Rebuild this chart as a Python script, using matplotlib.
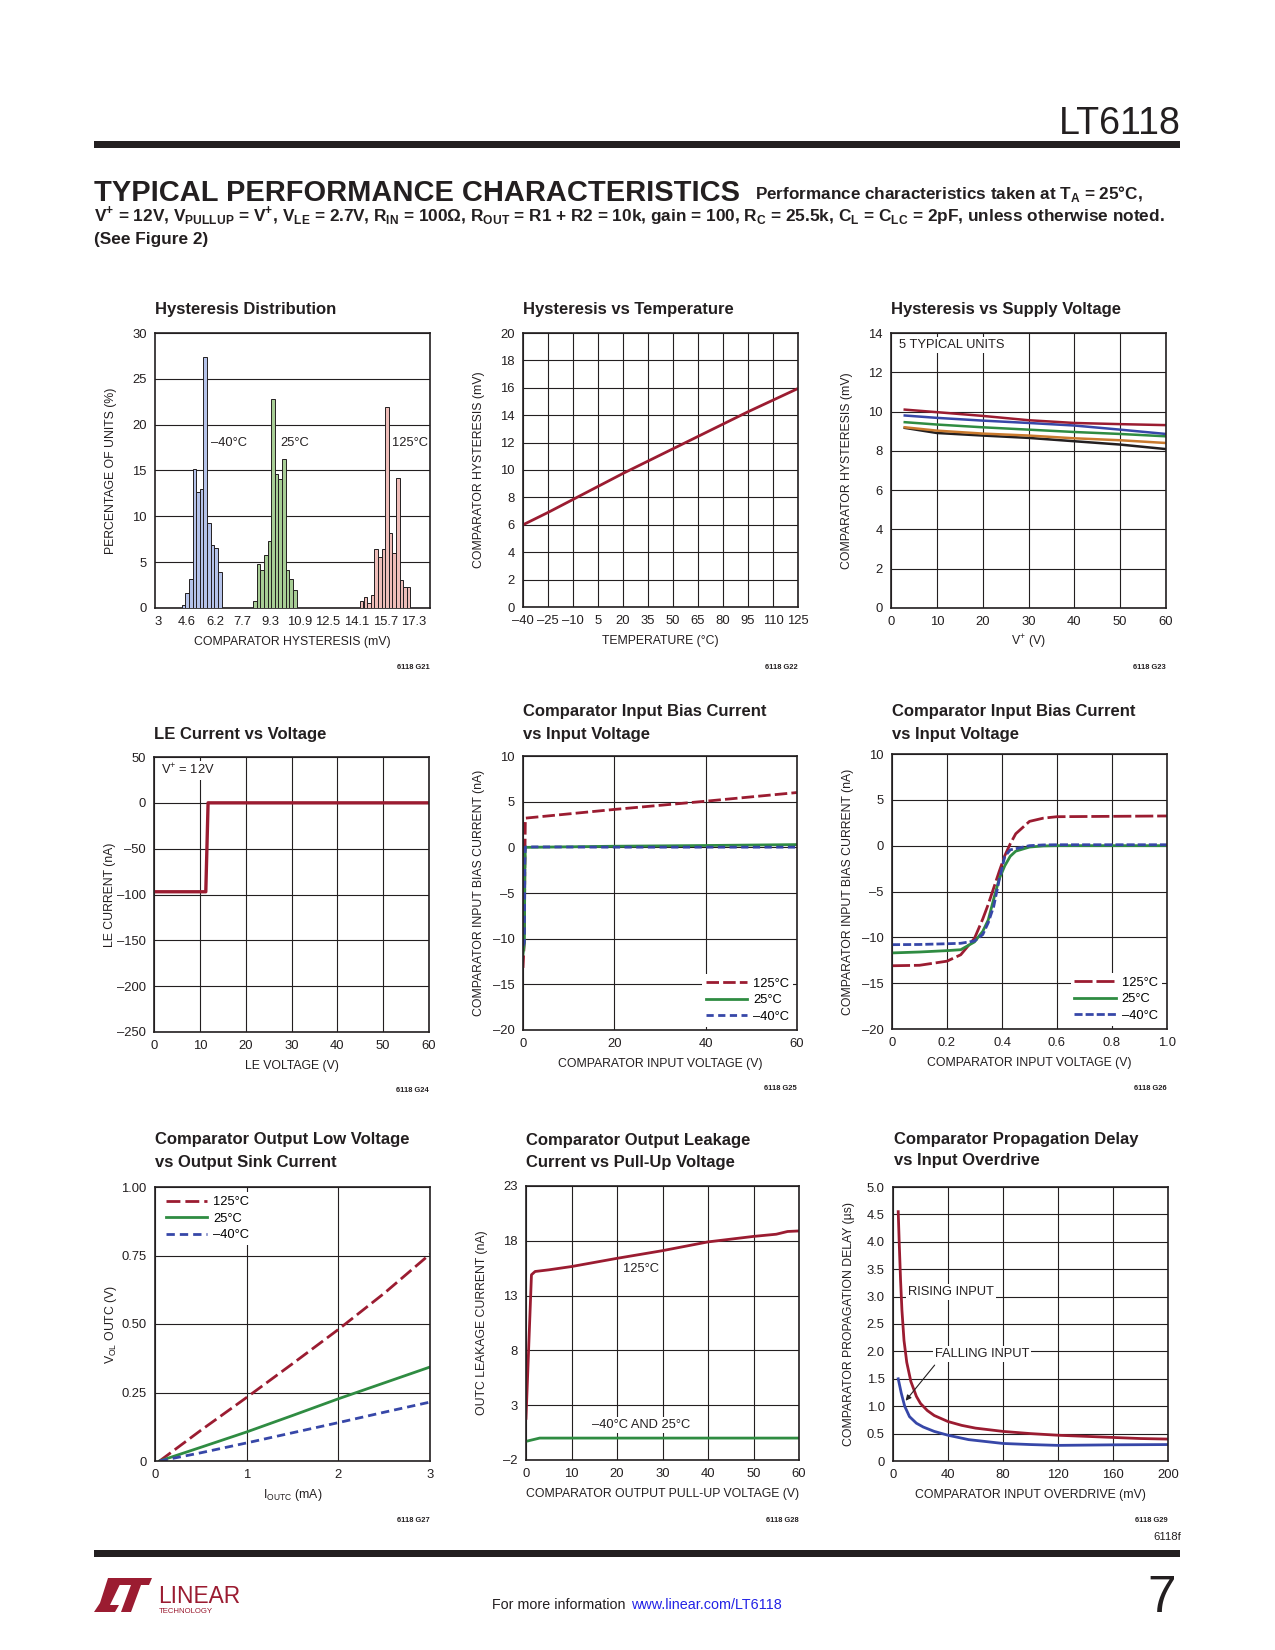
import matplotlib
matplotlib.use('Agg')
import matplotlib.pyplot as plt
from matplotlib.patches import Rectangle, Polygon

# ====================== DATA ======================
# Hysteresis distribution (bin centres in mV, percentage of units)
hist_ticks = [3, 4.6, 6.2, 7.7, 9.3, 10.9, 12.5, 14.1, 15.7, 17.3]
hist_ticklabels = ['3', '4.6', '6.2', '7.7', '9.3', '10.9', '12.5', '14.1', '15.7', '17.3']
hist_yticks = [0, 5, 10, 15, 20, 25, 30]
hist_yticklabels = ['0', '5', '10', '15', '20', '25', '30']
hist_bin_width = 0.2
bins_m40 = [4.42, 4.63, 4.83, 5.03, 5.23, 5.44, 5.64, 5.84, 6.05, 6.25, 6.45]
pct_m40 = [0.35, 1.6, 3.2, 15.2, 12.65, 13.0, 27.4, 9.3, 6.9, 6.5, 3.9]
bins_25 = [8.42, 8.62, 8.82, 9.02, 9.23, 9.43, 9.63, 9.83, 10.04, 10.24, 10.44, 10.65]
pct_25 = [0.8, 4.8, 4.1, 5.8, 7.35, 22.8, 14.65, 14.1, 16.25, 4.1, 3.2, 2.0]
bins_125 = [14.38, 14.59, 14.79, 14.99, 15.19, 15.39, 15.60, 15.80, 16.00, 16.20,
            16.41, 16.61, 16.81, 17.01]
pct_125 = [0.8, 1.2, 0.55, 1.45, 6.45, 5.55, 6.45, 21.9, 8.2, 6.0, 14.2, 3.0, 2.3, 2.3]

# Hysteresis vs temperature
temp_ticks = [-40, -25, -10, 5, 20, 35, 50, 65, 80, 95, 110, 125]
temp_ticklabels = ['–40', '–25', '–10', '5', '20', '35', '50', '65', '80', '95', '110', '125']
hyst_ticks = [0, 2, 4, 6, 8, 10, 12, 14, 16, 18, 20]
hyst_ticklabels = ['0', '2', '4', '6', '8', '10', '12', '14', '16', '18', '20']
temp_c = [-40, -25, -10, 5, 20, 35, 50, 65, 80, 95, 110, 125]
hyst_temp = [6.0, 6.9, 7.85, 8.8, 9.75, 10.65, 11.55, 12.45, 13.35, 14.25, 15.1, 15.95]

# Hysteresis vs supply voltage (5 typical units)
sup_xticks = [0, 10, 20, 30, 40, 50, 60]
sup_xticklabels = ['0', '10', '20', '30', '40', '50', '60']
sup_yticks = [0, 2, 4, 6, 8, 10, 12, 14]
sup_yticklabels = ['0', '2', '4', '6', '8', '10', '12', '14']
vsup = [3, 10, 20, 30, 40, 50, 60]
hyst_unit1 = [10.1, 9.97, 9.78, 9.56, 9.42, 9.36, 9.31]
hyst_unit2 = [9.8, 9.68, 9.54, 9.42, 9.29, 9.08, 8.86]
hyst_unit3 = [9.46, 9.34, 9.2, 9.08, 8.96, 8.86, 8.74]
hyst_unit4 = [9.2, 9.03, 8.88, 8.78, 8.64, 8.54, 8.4]
hyst_unit5 = [9.17, 8.91, 8.78, 8.66, 8.49, 8.32, 8.09]

# LE current vs voltage
le_xticks = [0, 10, 20, 30, 40, 50, 60]
le_xticklabels = ['0', '10', '20', '30', '40', '50', '60']
le_yticks = [-250, -200, -150, -100, -50, 0, 50]
le_yticklabels = ['–250', '–200', '–150', '–100', '–50', '0', '50']
le_v = [0, 11.3, 11.8, 60]
le_i = [-97, -97, 0, 0]

# Input bias current vs input voltage (0 to 60V)
ib_yticks = [-20, -15, -10, -5, 0, 5, 10]
ib_yticklabels = ['–20', '–15', '–10', '–5', '0', '5', '10']
ibw_xticks = [0, 20, 40, 60]
ibw_xticklabels = ['0', '20', '40', '60']
vin_wide = [0, 0.3, 0.4, 0.5, 0.6, 20, 40, 60]
ib125_wide = [-13.2, -10.1, -2.0, 2.6, 3.2, 4.15, 5.05, 6.0]
ib25_wide = [-11.7, -10.5, -2.8, -0.15, 0.0, 0.12, 0.2, 0.3]
ibm40_wide = [-10.8, -10.4, -1.5, 0.0, 0.05, 0.02, 0.02, 0.02]

# Input bias current vs input voltage (0 to 1V)
ibf_xticks = [0, 0.2, 0.4, 0.6, 0.8, 1.0]
ibf_xticklabels = ['0', '0.2', '0.4', '0.6', '0.8', '1.0']
vin_fine = [0, 0.1, 0.2, 0.25, 0.3, 0.33, 0.35, 0.37, 0.39, 0.41, 0.43, 0.45, 0.5,
            0.55, 0.6, 0.8, 1.0]
ib125_fine = [-13.1, -13.05, -12.6, -11.9, -10.1, -8.0, -6.4, -4.6, -2.8, -1.1, 0.2,
              1.3, 2.65, 3.0, 3.16, 3.2, 3.24]
ib25_fine = [-11.7, -11.6, -11.45, -11.35, -10.5, -9.35, -8.1, -5.8, -3.6, -2.2, -1.16,
             -0.6, -0.15, -0.03, 0.0, 0.0, 0.0]
ibm40_fine = [-10.8, -10.78, -10.7, -10.65, -10.4, -9.7, -8.4, -6.6, -3.7, -1.2, -0.45,
              -0.33, 0.0, 0.08, 0.1, 0.1, 0.1]

# Output low voltage vs sink current
vol_xticks = [0, 1, 2, 3]
vol_xticklabels = ['0', '1', '2', '3']
vol_yticks = [0, 0.25, 0.5, 0.75, 1.0]
vol_yticklabels = ['0', '0.25', '0.50', '0.75', '1.00']
iout_ma = [0.05, 0.5, 1.0, 1.5, 2.0, 2.5, 3.0]
vol_125 = [0.0, 0.112, 0.232, 0.355, 0.48, 0.612, 0.755]
vol_25 = [0.0, 0.05, 0.106, 0.166, 0.227, 0.285, 0.343]
vol_m40 = [0.0, 0.03, 0.066, 0.103, 0.14, 0.178, 0.215]

# Output leakage current vs pull-up voltage
lk_xticks = [0, 10, 20, 30, 40, 50, 60]
lk_xticklabels = ['0', '10', '20', '30', '40', '50', '60']
lk_yticks = [-2, 3, 8, 13, 18, 23]
lk_yticklabels = ['–2', '3', '8', '13', '18', '23']
vpu_125 = [0, 1.2, 2.0, 5, 10, 20, 30, 40, 50, 55, 57.5, 60]
ileak_125 = [1.8, 14.9, 15.2, 15.35, 15.65, 16.4, 17.1, 17.9, 18.4, 18.6, 18.85, 18.9]
vpu_cold = [0, 3, 60]
ileak_cold = [-0.3, 0.0, 0.0]

# Propagation delay vs input overdrive
pd_xticks = [0, 40, 80, 120, 160, 200]
pd_xticklabels = ['0', '40', '80', '120', '160', '200']
pd_yticks = [0, 0.5, 1.0, 1.5, 2.0, 2.5, 3.0, 3.5, 4.0, 4.5, 5.0]
pd_yticklabels = ['0', '0.5', '1.0', '1.5', '2.0', '2.5', '3.0', '3.5', '4.0', '4.5', '5.0']
od_rise = [3.8, 4.5, 5.5, 6.5, 8, 10, 13, 17, 20, 25, 30, 40, 50, 60, 80, 100, 120,
           140, 160, 180, 200]
tpd_rise = [4.55, 4.0, 3.3, 2.75, 2.2, 1.8, 1.45, 1.18, 1.05, 0.92, 0.83, 0.72, 0.65,
            0.6, 0.54, 0.5, 0.47, 0.45, 0.43, 0.41, 0.40]
od_fall = [3.8, 6, 8.5, 12, 17, 22, 30, 40, 55, 80, 100, 120, 160, 200]
tpd_fall = [1.5, 1.24, 1.0, 0.81, 0.69, 0.62, 0.54, 0.47, 0.39, 0.32, 0.3, 0.285,
            0.295, 0.3]

# ====================== STYLE ======================
W, H = 1275, 1650
SANS = ['Liberation Sans', 'DejaVu Sans']
plt.rcParams['font.family'] = SANS
plt.rcParams['axes.unicode_minus'] = False

INK = '#231f20'
RED = '#9b1c31'
GREEN = '#2f8c42'
BLUE = '#3747a8'
ORANGE = '#c97a2e'
HB = '#b5c3ea'
HG = '#a7cd95'
HP = '#efbdb9'
TICK_FS = 9.4
LAB_FS = 8.8
LEG_FS = 9.3
TITLE_FS = 12

fig = plt.figure(figsize=(W / 100, H / 100), dpi=100)


def fx(x):
    return x / W


def fy(y):
    return 1 - y / H


def add_ax(box):
    l, t, r, b = box
    return fig.add_axes([l / W, 1 - b / H, (r - l) / W, (b - t) / H])


def setup(ax, box, xlim, ylim, xt, xtl, yt, ytl, xl, yl, xgrid=True):
    l, t, r, b = box
    ax.set_xlim(xlim)
    ax.set_ylim(ylim)
    ax.set_xticks(xt)
    ax.set_xticklabels(xtl)
    ax.set_yticks(yt)
    ax.set_yticklabels(ytl)
    ax.tick_params(axis='both', length=0, labelsize=TICK_FS, labelcolor=INK, pad=6)
    ax.grid(True, axis='both' if xgrid else 'y', color=INK, lw=0.8)
    ax.set_axisbelow(True)
    for sp in ax.spines.values():
        sp.set_color(INK)
        sp.set_linewidth(1.2)
    ax.set_xlabel(xl, fontsize=LAB_FS, color=INK)
    ax.xaxis.set_label_coords(0.5, -34 / (b - t))
    ax.xaxis.label.set_va('center')
    ax.set_ylabel(yl, fontsize=LAB_FS, color=INK)
    ax.yaxis.set_label_coords(-44 / (r - l), 0.5)
    ax.yaxis.label.set_va('center')


def title(x, lines_baselines):
    for txt, yb in lines_baselines:
        fig.text(fx(x), fy(yb), txt, fontsize=TITLE_FS, fontweight='bold', color=INK,
                 ha='left', va='baseline')


def code(xr, y, txt):
    fig.text(fx(xr), fy(y), txt, fontsize=5.4, fontweight='bold', color=INK,
             ha='right', va='center')


def legend(ax, handles, loc, anchor):
    ax.legend(handles=handles, loc=loc, bbox_to_anchor=anchor, frameon=True,
              fancybox=False, edgecolor='none', facecolor='white', framealpha=1,
              fontsize=LEG_FS, handlelength=3.2, handletextpad=0.45, labelspacing=0.34,
              borderpad=0.3, borderaxespad=0)


WHITE = dict(facecolor='white', edgecolor='none', pad=1.5)

# ---------------- header ----------------
fig.text(fx(1181), fy(134), 'LT6118', fontsize=27, color=INK, ha='right',
         va='baseline')
fig.add_artist(Rectangle((fx(94), fy(148)), (1180 - 94) / W, 7 / H,
                         transform=fig.transFigure, color=INK, lw=0))
fig.text(fx(94), fy(201), 'TYPICAL PERFORMANCE CHARACTERISTICS', fontsize=20.9,
         fontweight='bold', color=INK, ha='left', va='baseline')
fig.text(fx(755), fy(199), r'Performance characteristics taken at T$_{\mathregular{A}}$ = 25°C,',
         fontsize=12.3, fontweight='bold', color=INK, ha='left', va='baseline')
fig.text(fx(94), fy(221),
         r'V$^{\mathregular{+}}$ = 12V, V$_{\mathregular{PULLUP}}$ = V$^{\mathregular{+}}$, '
         r'V$_{\mathregular{LE}}$ = 2.7V, R$_{\mathregular{IN}}$ = 100Ω, '
         r'R$_{\mathregular{OUT}}$ = R1 + R2 = 10k, gain = 100, R$_{\mathregular{C}}$ = 25.5k, '
         r'C$_{\mathregular{L}}$ = C$_{\mathregular{LC}}$ = 2pF, unless otherwise noted.',
         fontsize=12.4, fontweight='bold', color=INK, ha='left', va='baseline')
fig.text(fx(94), fy(244), '(See Figure 2)', fontsize=12.4, fontweight='bold',
         color=INK, ha='left', va='baseline')

# ---------------- 1: histogram ----------------
B1 = (155, 333, 430, 608)
ax = add_ax(B1)
ax.bar(bins_m40, pct_m40, width=hist_bin_width, color=HB, edgecolor=INK, lw=0.7, zorder=3)
ax.bar(bins_25, pct_25, width=hist_bin_width, color=HG, edgecolor=INK, lw=0.7, zorder=3)
ax.bar(bins_125, pct_125, width=hist_bin_width, color=HP, edgecolor=INK, lw=0.7, zorder=3)
setup(ax, B1, (2.83, 18.2), (0, 30), hist_ticks, hist_ticklabels, hist_yticks,
      hist_yticklabels, 'COMPARATOR HYSTERESIS (mV)', 'PERCENTAGE OF UNITS (%)', xgrid=False)
ax.text(5.94, 18.0, '–40°C', fontsize=LEG_FS, color=INK, ha='left', va='center')
ax.text(9.85, 18.0, '25°C', fontsize=LEG_FS, color=INK, ha='left', va='center')
ax.text(16.09, 18.0, '125°C', fontsize=LEG_FS, color=INK, ha='left', va='center')
title(155, [('Hysteresis Distribution', 314)])
code(430, 668, '6118 G21')

# ---------------- 2: hysteresis vs temperature ----------------
B2 = (523, 333, 798, 607)
ax = add_ax(B2)
ax.plot(temp_c, hyst_temp, color=RED, lw=2.0, solid_capstyle='butt')
setup(ax, B2, (-40, 125), (0, 20), temp_ticks, temp_ticklabels, hyst_ticks,
      hyst_ticklabels, 'TEMPERATURE (°C)', 'COMPARATOR HYSTERESIS (mV)')
title(523, [('Hysteresis vs Temperature', 314)])
code(798, 667, '6118 G22')

# ---------------- 3: hysteresis vs supply ----------------
B3 = (891, 333, 1166, 608)
ax = add_ax(B3)
for yv, c in [(hyst_unit5, INK), (hyst_unit4, ORANGE), (hyst_unit3, GREEN),
              (hyst_unit2, BLUE), (hyst_unit1, RED)]:
    ax.plot(vsup, yv, color=c, lw=1.8)
setup(ax, B3, (0, 60), (0, 14), sup_xticks, sup_xticklabels, sup_yticks, sup_yticklabels,
      r'V$^{\mathregular{+}}$ (V)', 'COMPARATOR HYSTERESIS (mV)')
ax.text(1.75, 13.37, '5 TYPICAL UNITS', fontsize=LEG_FS, color=INK, ha='left',
        va='center', bbox=WHITE)
title(891, [('Hysteresis vs Supply Voltage', 314)])
code(1166, 668, '6118 G23')

# ---------------- 4: LE current ----------------
B4 = (154, 757, 429, 1032)
ax = add_ax(B4)
ax.plot(le_v, le_i, color=RED, lw=2.4)
setup(ax, B4, (0, 60), (-250, 50), le_xticks, le_xticklabels, le_yticks, le_yticklabels,
      'LE VOLTAGE (V)', 'LE CURRENT (nA)')
ax.text(1.45, 35.5, r'V$^{\mathregular{+}}$ = 12V', fontsize=LEG_FS, color=INK, ha='left',
        va='center', bbox=WHITE)
title(154, [('LE Current vs Voltage', 739)])
code(429, 1090, '6118 G24')

# ---------------- 5: bias current 0-60V ----------------
B5 = (523, 756, 797, 1030)
ax = add_ax(B5)
l125, = ax.plot(vin_wide, ib125_wide, color=RED, lw=2.0, dashes=(4.5, 1.5), label='125°C')
l25, = ax.plot(vin_wide, ib25_wide, color=GREEN, lw=2.0, label='25°C')
lm40, = ax.plot(vin_wide, ibm40_wide, color=BLUE, lw=2.0, dashes=(2.6, 1.6), label='–40°C')
setup(ax, B5, (0, 60), (-20, 10), ibw_xticks, ibw_xticklabels, ib_yticks, ib_yticklabels,
      'COMPARATOR INPUT VOLTAGE (V)', 'COMPARATOR INPUT BIAS CURRENT (nA)')
legend(ax, [l125, l25, lm40], 'lower right', (0.985, 0.012))
title(523, [('Comparator Input Bias Current', 716), ('vs Input Voltage', 739)])
code(797, 1089, '6118 G25')

# ---------------- 6: bias current 0-1V ----------------
B6 = (892, 754, 1167, 1029)
ax = add_ax(B6)
l125, = ax.plot(vin_fine, ib125_fine, color=RED, lw=2.0, dashes=(6.5, 1.4), label='125°C')
l25, = ax.plot(vin_fine, ib25_fine, color=GREEN, lw=2.0, label='25°C')
lm40, = ax.plot(vin_fine, ibm40_fine, color=BLUE, lw=2.0, dashes=(2.9, 1.1), label='–40°C')
setup(ax, B6, (0, 1.0), (-20, 10), ibf_xticks, ibf_xticklabels, ib_yticks, ib_yticklabels,
      'COMPARATOR INPUT VOLTAGE (V)', 'COMPARATOR INPUT BIAS CURRENT (nA)')
legend(ax, [l125, l25, lm40], 'lower right', (0.98, 0.012))
title(892, [('Comparator Input Bias Current', 716), ('vs Input Voltage', 739)])
code(1167, 1089, '6118 G26')

# ---------------- 7: output low voltage ----------------
B7 = (155, 1187, 430, 1461)
ax = add_ax(B7)
l125, = ax.plot(iout_ma, vol_125, color=RED, lw=2.0, dashes=(5, 1.8), label='125°C')
l25, = ax.plot(iout_ma, vol_25, color=GREEN, lw=2.0, label='25°C')
lm40, = ax.plot(iout_ma, vol_m40, color=BLUE, lw=2.0, dashes=(3, 1.8), label='–40°C')
setup(ax, B7, (0, 3), (0, 1.0), vol_xticks, vol_xticklabels, vol_yticks, vol_yticklabels,
      r'I$_{\mathregular{OUTC}}$ (mA)', r'V$_{\mathregular{OL}}$ OUTC (V)')
legend(ax, [l125, l25, lm40], 'upper left', (0.026, 0.98))
title(155, [('Comparator Output Low Voltage', 1144), ('vs Output Sink Current', 1167)])
code(430, 1520, '6118 G27')

# ---------------- 8: leakage current ----------------
B8 = (526, 1186, 799, 1460)
ax = add_ax(B8)
ax.plot(vpu_125, ileak_125, color=RED, lw=2.0)
ax.plot(vpu_cold, ileak_cold, color=GREEN, lw=2.0)
setup(ax, B8, (0, 60), (-2, 23), lk_xticks, lk_xticklabels, lk_yticks, lk_yticklabels,
      'COMPARATOR OUTPUT PULL-UP VOLTAGE (V)', 'OUTC LEAKAGE CURRENT (nA)')
ax.text(25.2, 15.4, '125°C', fontsize=LEG_FS, color=INK, ha='center', va='center')
ax.text(25.2, 1.2, '–40°C AND 25°C', fontsize=LEG_FS, color=INK, ha='center', va='center',
        bbox=WHITE)
title(526, [('Comparator Output Leakage', 1145), ('Current vs Pull-Up Voltage', 1167)])
code(799, 1520, '6118 G28')

# ---------------- 9: propagation delay ----------------
B9 = (893, 1187, 1168, 1461)
ax = add_ax(B9)
ax.plot(od_rise, tpd_rise, color=RED, lw=2.0)
ax.plot(od_fall, tpd_fall, color=BLUE, lw=2.0)
setup(ax, B9, (0, 200), (0, 5.0), pd_xticks, pd_xticklabels, pd_yticks, pd_yticklabels,
      'COMPARATOR INPUT OVERDRIVE (mV)', 'COMPARATOR PROPAGATION DELAY (µs)')
ax.text(42.4, 3.08, 'RISING INPUT', fontsize=LEG_FS, color=INK, ha='center', va='center',
        bbox=WHITE)
ax.text(64.7, 1.95, 'FALLING INPUT', fontsize=LEG_FS, color=INK, ha='center', va='center',
        bbox=WHITE)
ax.annotate('', xy=(9.2, 1.10), xytext=(30.3, 1.75),
            arrowprops=dict(arrowstyle='-|>', color=INK, lw=0.8, mutation_scale=8,
                            shrinkA=0, shrinkB=0))
title(894, [('Comparator Propagation Delay', 1144), ('vs Input Overdrive', 1165)])
code(1168, 1521, '6118 G29')
fig.text(fx(1181), fy(1537), '6118f', fontsize=8.2, color=INK, ha='right', va='center')

# ---------------- footer ----------------
fig.add_artist(Rectangle((fx(94), fy(1557)), (1180 - 94) / W, 7 / H,
                         transform=fig.transFigure, color=INK, lw=0))
logo_l = [(108, 1578), (123, 1578), (110, 1605), (119, 1605), (115, 1612), (94, 1612),
          (100, 1603)]
logo_t = [(120, 1578), (152, 1578), (149, 1585), (141, 1585), (131, 1612), (121, 1612),
          (131, 1585), (117, 1585)]
for pts in (logo_l, logo_t):
    fig.add_artist(Polygon([(fx(a), fy(b)) for a, b in pts], closed=True,
                           transform=fig.transFigure, color=RED, lw=0))
fig.text(fx(158), fy(1603), 'LINEAR', fontsize=16.4, color=RED, ha='left',
         va='baseline')
fig.text(fx(159), fy(1613), 'TECHNOLOGY', fontsize=5.6, color=RED, ha='left',
         va='baseline')
fig.text(fx(492), fy(1609), 'For more information', fontsize=10.3, color=INK,
         ha='left', va='baseline')
fig.text(fx(631), fy(1609), 'www.linear.com/LT6118', fontsize=10.4, color='#2323e6',
         ha='left', va='baseline')
fig.text(fx(1176), fy(1612), '7', fontsize=37, color=INK, ha='right', va='baseline')

fig.savefig('out.png', dpi=100, facecolor='white')
